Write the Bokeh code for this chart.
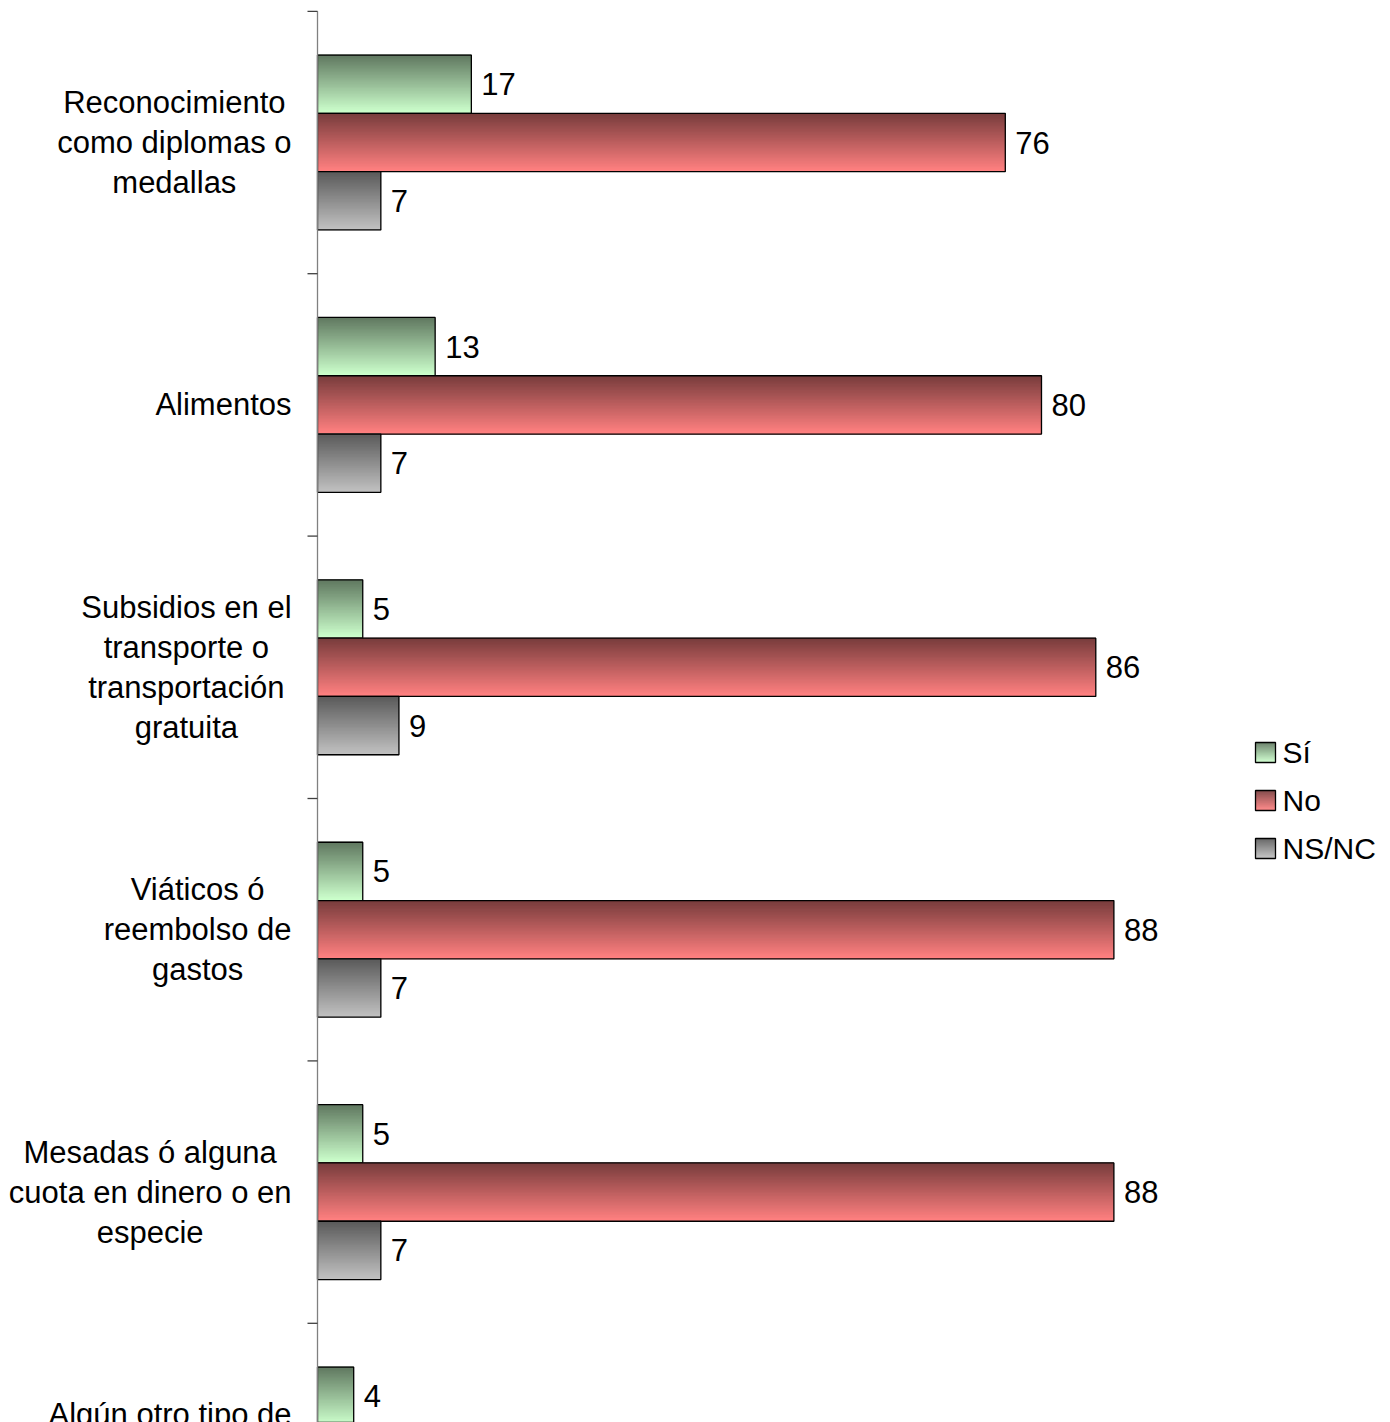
import numpy as np
from bokeh.plotting import figure
from bokeh.models import ColumnDataSource, Range1d
from bokeh.core.properties import value
from bokeh.embed import file_html
from bokeh.resources import INLINE

# ---------------- data ----------------
categories = [
    "Reconocimiento\ncomo diplomas o\nmedallas",
    "Alimentos",
    "Subsidios en el\ntransporte o\ntransportación\ngratuita",
    "Viáticos ó\nreembolso de\ngastos",
    "Mesadas ó alguna\ncuota en dinero o en\nespecie",
    "Algún otro tipo de\nincentivo o\napoyo",
]
si = [17, 13, 5, 5, 5, 4]
no = [76, 80, 86, 88, 88, None]     # last value is cut off in the source picture
nsnc = [7, 7, 9, 7, 7, None]        # last value is cut off in the source picture
series_names = ["Sí", "No", "NS/NC"]

# ---------------- styles / layout ----------------
FONT = "Liberation Sans"
FS = 31
LINE_H = 1.145
base_colors = [(204, 255, 204), (255, 128, 128), (192, 192, 192)]
DARK = 0.47
N_STRIPS = 40

W, H = 1390, 1422
ORIGIN_X = 317.0   # canvas px where value 0 sits
PXU_X = 9.05       # px per value unit
CAT0_Y = 142.0     # canvas px of first category center
PXU_Y = 262.4      # px per category band

x_range = Range1d(-ORIGIN_X / PXU_X, (W - ORIGIN_X) / PXU_X)
y_range = Range1d((H - CAT0_Y) / PXU_Y, -CAT0_Y / PXU_Y)

p = figure(width=W, height=H, x_range=x_range, y_range=y_range,
           output_backend="svg", toolbar_location=None, min_border=0,
           x_axis_location=None, y_axis_location=None)
p.grid.visible = False
p.outline_line_color = None
p.background_fill_color = "white"
p.border_fill_color = "white"


def px_x(dx):
    return dx / PXU_X


def px_y(dy):
    return dy / PXU_Y


def grad_color(base, t):
    f = DARK + (1 - DARK) * t
    r, g, b = (int(round(c * f)) for c in base)
    return "#%02x%02x%02x" % (r, g, b)


def add_gradient_bars(lefts, rights, centers, height, base):
    ys, ls, rs, cs = [], [], [], []
    sh = height / N_STRIPS
    for l, r, c in zip(lefts, rights, centers):
        for j in range(N_STRIPS):
            t = j / (N_STRIPS - 1)
            ys.append(c - height / 2 + (j + 0.5) * sh)
            ls.append(l)
            rs.append(r)
            cs.append(grad_color(base, t))
    src = ColumnDataSource(dict(y=ys, left=ls, right=rs, color=cs))
    p.hbar(y="y", left="left", right="right", height=sh * 1.6, source=src,
           fill_color="color", line_color=None)
    p.hbar(y=list(centers), left=list(lefts), right=list(rights), height=height,
           fill_alpha=0, line_color="black", line_width=1.3)


n = len(categories)
idx = np.arange(n)
bar_h = 1 / 4.5   # gap width 150%
series = [si, no, nsnc]
offsets = [-bar_h, 0.0, bar_h]

for vals, off, base in zip(series, offsets, base_colors):
    keep = [i for i, v in enumerate(vals) if v is not None]
    vv = [vals[i] for i in keep]
    ys = [float(idx[i] + off) for i in keep]
    add_gradient_bars([0] * len(vv), vv, ys, bar_h, base)
    p.text(x=vv, y=ys, text=[str(v) for v in vv], x_offset=10,
           text_align="left", text_baseline="middle",
           text_font=value(FONT), text_font_size=f"{FS}px", text_color="black")

# axis line and ticks at category boundaries
bounds = np.arange(n + 1) - 0.5
p.segment(x0=[0], y0=[bounds[0]], x1=[0], y1=[bounds[-1] + 1], line_color="#808080", line_width=1.3)
p.segment(x0=[px_x(-10)] * len(bounds), y0=list(bounds), x1=[0] * len(bounds), y1=list(bounds),
          line_color="#404040", line_width=1.3)

# category labels: lines centered, block right-aligned
AW = {' ': 278, 'a': 556, 'b': 556, 'c': 500, 'd': 556, 'e': 556, 'f': 278, 'g': 556, 'h': 556,
      'i': 222, 'j': 222, 'k': 500, 'l': 222, 'm': 833, 'n': 556, 'o': 556, 'p': 556, 'q': 556,
      'r': 333, 's': 500, 't': 278, 'u': 556, 'v': 500, 'w': 722, 'x': 500, 'y': 500, 'z': 500,
      'á': 556, 'é': 556, 'í': 278, 'ó': 556, 'ú': 556, 'ñ': 556, 'A': 667, 'M': 833, 'R': 722,
      'S': 667, 'V': 667, 'N': 722, 'C': 722, '/': 278}


def block_width(s):
    return max(sum(AW.get(ch, 556) for ch in line) for line in s.split("\n")) / 1000 * FS


label_right = px_x(-26)
label_x = [label_right - px_x(block_width(c) / 2) for c in categories]
p.text(x=label_x, y=list(idx), text=categories, text_align="center", text_baseline="middle",
       text_font=value(FONT), text_font_size=f"{FS}px", text_color="black",
       text_line_height=LINE_H)

# legend
leg_left = px_x(1255 - ORIGIN_X)
sw = px_x(20)
sh_leg = px_y(20)
leg_y = [px_y(752 - CAT0_Y + 48 * k) for k in range(3)]
for k, base in enumerate(base_colors):
    add_gradient_bars([leg_left], [leg_left + sw], [leg_y[k]], sh_leg, base)
p.text(x=[leg_left + sw] * 3, y=leg_y, text=series_names, x_offset=7,
       text_align="left", text_baseline="middle",
       text_font=value(FONT), text_font_size="30px", text_color="black")

open("out.html", "w").write(file_html(p, INLINE))
